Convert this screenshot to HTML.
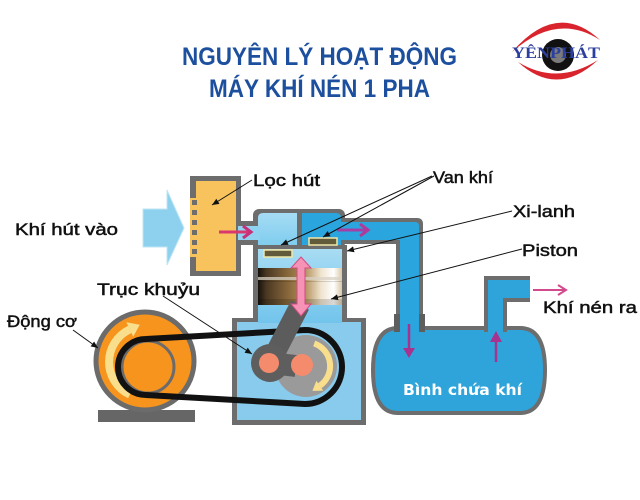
<!DOCTYPE html>
<html><head><meta charset="utf-8">
<style>html,body{margin:0;padding:0;background:#fff;}svg{display:block}</style>
</head>
<body>
<svg width="640" height="500" viewBox="0 0 640 500" xmlns="http://www.w3.org/2000/svg">
<defs>
 <linearGradient id="pist" x1="0" y1="0" x2="1" y2="0">
  <stop offset="0" stop-color="#15110c"/>
  <stop offset="0.1" stop-color="#4a3822"/>
  <stop offset="0.35" stop-color="#86663a"/>
  <stop offset="0.55" stop-color="#b08c58"/>
  <stop offset="0.75" stop-color="#efe4cf"/>
  <stop offset="0.9" stop-color="#ffffff"/>
  <stop offset="1" stop-color="#d8c8a8"/>
 </linearGradient>
 <linearGradient id="cyl" x1="0" y1="0" x2="0" y2="1">
  <stop offset="0" stop-color="#a8dcf3"/>
  <stop offset="1" stop-color="#72c4ec"/>
 </linearGradient>
 <linearGradient id="lch" x1="0" y1="0" x2="0" y2="1">
  <stop offset="0" stop-color="#a6dcf4"/>
  <stop offset="1" stop-color="#7fcdee"/>
 </linearGradient>
 <marker id="ah" markerWidth="8" markerHeight="8" refX="7" refY="4" orient="auto" markerUnits="userSpaceOnUse">
  <path d="M0,1 L7,4 L0,7 Z" fill="#111"/>
 </marker>
</defs>

<!-- Title -->
<text x="182" y="65" font-family="Liberation Sans, sans-serif" font-weight="bold" font-size="25" fill="#1d4f9f" textLength="275" lengthAdjust="spacingAndGlyphs">NGUYÊN LÝ HOẠT ĐỘNG</text>
<text x="209" y="97" font-family="Liberation Sans, sans-serif" font-weight="bold" font-size="25" fill="#1d4f9f" textLength="221" lengthAdjust="spacingAndGlyphs">MÁY KHÍ NÉN 1 PHA</text>

<!-- Logo -->
<path d="M512,52 Q557,0 600,40 Q557,12 512,52 Z" fill="#d9232d"/>
<path d="M518,62 Q557,98 598,60 Q557,86 518,62 Z" fill="#d9232d"/>
<circle cx="558" cy="55" r="16" fill="#111"/>
<circle cx="558" cy="55" r="8" fill="#7a7a7a"/>
<text x="512" y="58" font-family="Liberation Serif, serif" font-weight="bold" font-size="16" fill="#2b3f9f" textLength="88" lengthAdjust="spacingAndGlyphs">YÊNPHÁT</text>

<!-- Intake arrow -->
<polygon points="143,209 167,209 167,190 184,228 167,265 167,247 143,247" fill="#8dd1ef" stroke="#bfe5f6" stroke-width="1"/>

<!-- Filter -->
<rect x="190" y="176" width="51" height="100" fill="#6d6d6d"/>
<rect x="196" y="181" width="40" height="90" fill="#f8c35c"/>
<rect x="190" y="198" width="6" height="59" fill="#f8c35c"/>
<rect x="192" y="200" width="5" height="5" fill="#6d6d6d"/>
<rect x="192" y="210" width="5" height="5" fill="#6d6d6d"/>
<rect x="192" y="220" width="5" height="5" fill="#6d6d6d"/>
<rect x="192" y="230" width="5" height="5" fill="#6d6d6d"/>
<rect x="192" y="240" width="5" height="5" fill="#6d6d6d"/>
<rect x="192" y="249" width="5" height="5" fill="#6d6d6d"/>

<!-- Tank -->
<path d="M398,328 L520,328 Q545,328 545,370 Q545,413 520,413 L398,413 Q373,413 373,370 Q373,328 398,328 Z" fill="#2ea4db" stroke="#6d6d6d" stroke-width="4"/>

<!-- Head + outlet pipe outer -->
<rect x="253" y="209" width="92" height="40" rx="6" fill="#6d6d6d"/>
<path d="M338,218 L417,218 Q423,218 423,224 L423,332 L396,332 L396,244 L338,244 Z" fill="#6d6d6d"/>
<rect x="394" y="314" width="31" height="18" fill="#5e5e5e"/>
<!-- inner -->
<path d="M258,245 L258,218 Q258,213 263,213 L297,213 L297,245 Z" fill="url(#lch)"/>
<path d="M302,213 L336,213 Q341,213 341,218 L341,222 L415,222 Q419,222 419,226 L419,334 L400,334 L400,240 L341,240 L341,245 L302,245 Z" fill="#2ba5dd"/>
<!-- inlet pipe -->
<rect x="238" y="221" width="20" height="24" fill="#6d6d6d"/>
<rect x="238" y="226" width="22" height="14" fill="#8fd3f1"/>

<!-- Outlet pipe on tank -->
<path d="M484,332 L484,276 L530,276 L530,302 L507,302 L507,332 Z" fill="#6d6d6d"/>
<path d="M488,334 L488,280 L530,280 L530,298 L503,298 L503,334 Z" fill="#2ea4db"/>

<!-- Cylinder + crankcase -->
<path d="M253,245 L253,318 L232,318 L232,425 L366,425 L366,318 L347,318 L347,245 Z" fill="#6d6d6d"/>
<path d="M237,322 L237,420 L361,420 L361,322 Z" fill="#88cbec"/>
<rect x="258" y="249" width="84" height="74" fill="url(#cyl)"/>
<!-- valve plate -->
<rect x="253" y="245" width="94" height="4" fill="#6d6d6d"/>
<rect x="264" y="250" width="28" height="7" fill="#615b3c" stroke="#efe7a6" stroke-width="1.5"/>
<rect x="309" y="238" width="28" height="7" fill="#615b3c" stroke="#efe7a6" stroke-width="1.5"/>

<!-- Piston -->
<rect x="258" y="268" width="84" height="37" fill="url(#pist)"/>
<rect x="258" y="277" width="84" height="3" fill="#d8d2c4" opacity="0.75"/>
<rect x="258" y="281" width="84" height="1" fill="#000" opacity="0.15"/>
<rect x="258" y="299" width="84" height="6" fill="#000" opacity="0.15"/>

<!-- Motor -->
<rect x="98" y="410" width="97" height="12" fill="#666"/>
<circle cx="145" cy="361" r="49" fill="#f7941d" stroke="#6b6b6b" stroke-width="5"/>
<circle cx="148" cy="367" r="26" fill="#f7941d" stroke="#6b6b6b" stroke-width="3"/>
<path d="M129.8,394.6 A36,36 0 0 1 129.8,329.4" fill="none" stroke="#f9df8c" stroke-width="8"/>
<polygon points="139.8,324.8 126.4,322.2 133.2,336.6" fill="#f9df8c"/>

<!-- Belt -->
<path d="M146,339 L305,330 A37,37 0 0 1 305,404 L146,395 A28,28 0 0 1 146,339 Z" fill="none" stroke="#111" stroke-width="6"/>

<!-- Crank -->
<circle cx="306" cy="366" r="31" fill="#9a9a9a"/>
<line x1="300" y1="305" x2="270" y2="363" stroke="#5c5c5c" stroke-width="20"/>
<circle cx="270" cy="363" r="19" fill="#5e5e5e"/>
<line x1="270" y1="363" x2="296" y2="366" stroke="#5e5e5e" stroke-width="22"/>
<circle cx="269" cy="363" r="10" fill="#f48b6c"/>
<circle cx="302" cy="365" r="11" fill="#f48b6c"/>
<path d="M314.2,343.4 A24,24 0 0 1 319.8,385.7" fill="none" stroke="#f9df8c" stroke-width="6"/>
<polygon points="312.4,390.9 323.2,390.6 316.4,380.8" fill="#f9df8c"/>

<!-- Pink double arrow -->
<polygon points="301,257 311,268 305,268 305,304 311,304 301,316 291,304 297,304 297,268 291,268" fill="#f592b5" stroke="#d04c80" stroke-width="1"/>

<!-- Flow arrows -->
<line x1="219" y1="232" x2="249" y2="232" stroke="#d8386e" stroke-width="3"/>
<polyline points="243,226 251,232 243,238" fill="none" stroke="#c8307a" stroke-width="3"/>
<line x1="337" y1="230" x2="366" y2="230" stroke="#a33fa5" stroke-width="3"/>
<polyline points="360,224 368,230 360,236" fill="none" stroke="#b03a9a" stroke-width="3"/>
<line x1="409" y1="324" x2="409" y2="352" stroke="#a8338f" stroke-width="2.5"/>
<polygon points="403,348 415,348 409,358" fill="#a8338f"/>
<line x1="496" y1="362" x2="496" y2="338" stroke="#a8338f" stroke-width="2.5"/>
<polygon points="490,342 502,342 496,331" fill="#a8338f"/>
<line x1="533" y1="290" x2="565" y2="290" stroke="#d24a8c" stroke-width="2"/>
<polyline points="558,285 566,290 558,295" fill="none" stroke="#d24a8c" stroke-width="2"/>

<!-- Leader lines -->
<g stroke="#111" stroke-width="1" fill="none">
 <line x1="252" y1="180" x2="212" y2="205" marker-end="url(#ah)"/>
 <line x1="432" y1="176" x2="281" y2="245" marker-end="url(#ah)"/>
 <line x1="434" y1="176" x2="323" y2="237" marker-end="url(#ah)"/>
 <line x1="512" y1="211" x2="347" y2="251" marker-end="url(#ah)"/>
 <line x1="522" y1="249" x2="331" y2="299" marker-end="url(#ah)"/>
 <line x1="163" y1="296" x2="252" y2="354" marker-end="url(#ah)"/>
 <line x1="73" y1="330" x2="98" y2="348" marker-end="url(#ah)"/>
</g>

<!-- Labels -->
<g font-family="Liberation Sans, sans-serif" font-size="17" fill="#111" stroke="#111" stroke-width="0.5">
 <text x="15" y="235" textLength="103" lengthAdjust="spacingAndGlyphs">Khí hút vào</text>
 <text x="253" y="186" textLength="67" lengthAdjust="spacingAndGlyphs">Lọc hút</text>
 <text x="433" y="183" textLength="60" lengthAdjust="spacingAndGlyphs">Van khí</text>
 <text x="513" y="217" textLength="62" lengthAdjust="spacingAndGlyphs">Xi-lanh</text>
 <text x="522" y="256" textLength="56" lengthAdjust="spacingAndGlyphs">Piston</text>
 <text x="543" y="313" textLength="94" lengthAdjust="spacingAndGlyphs">Khí nén ra</text>
 <text x="97" y="295" textLength="103" lengthAdjust="spacingAndGlyphs">Trục khuỷu</text>
 <text x="7" y="327" textLength="70" lengthAdjust="spacingAndGlyphs">Động cơ</text>
</g>
<text x="403" y="395" font-family="DejaVu Sans, sans-serif" font-weight="bold" font-size="15" fill="#ffffff" textLength="119" lengthAdjust="spacingAndGlyphs">Bình chứa khí</text>
</svg>
</body></html>
